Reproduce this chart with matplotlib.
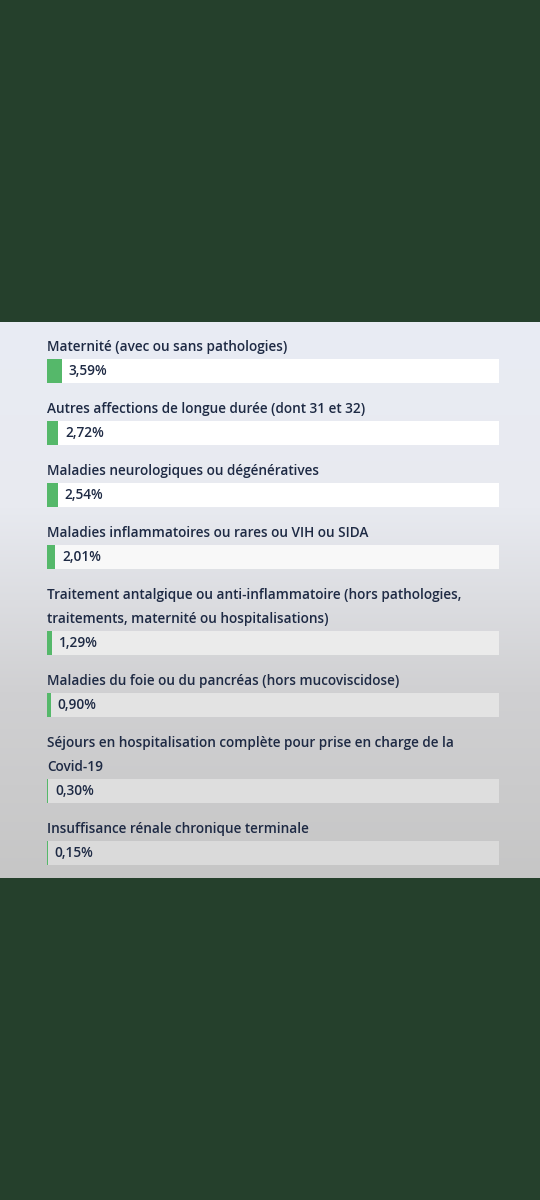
import matplotlib
matplotlib.use("Agg")
import matplotlib.pyplot as plt
import numpy as np
from matplotlib.colors import LinearSegmentedColormap

labels = [
    "Maternité (avec ou sans pathologies)",
    "Autres affections de longue durée (dont 31 et 32)",
    "Maladies neurologiques ou dégénératives",
    "Maladies inflammatoires ou rares ou VIH ou SIDA",
    "Traitement antalgique ou anti-inflammatoire (hors pathologies,\ntraitements, maternité ou hospitalisations)",
    "Maladies du foie ou du pancréas (hors mucoviscidose)",
    "Séjours en hospitalisation complète pour prise en charge de la\nCovid-19",
    "Insuffisance rénale chronique terminale",
]
values = [3.59, 2.72, 2.54, 2.01, 1.29, 0.90, 0.30, 0.15]
value_text = ["3,59%", "2,72%", "2,54%", "2,01%", "1,29%", "0,90%", "0,30%", "0,15%"]

W, H = 540, 1200
fig = plt.figure(figsize=(W / 100, H / 100), dpi=100)
fig.patch.set_facecolor("#25402c")

# panel with gradient background
top, bot = 322, 878
bg = fig.add_axes([0, 1 - bot / H, 1, (bot - top) / H])
cmap = LinearSegmentedColormap.from_list("p", ["#e9ecf4", "#e8eaf0", "#d0d0d2", "#c6c6c6"])
grad = np.linspace(0, 1, 256).reshape(-1, 1)
bg.imshow(grad, aspect="auto", cmap=cmap, extent=[0, W, bot, top])
bg.set_xlim(0, W)
bg.set_ylim(bot, top)
bg.axis("off")

# chart axes over the track area, x in percent
x0, x1 = 47, 499
ax = fig.add_axes([x0 / W, 1 - bot / H, (x1 - x0) / W, (bot - top) / H])
ax.set_xlim(0, 108)
ax.set_ylim(bot, top)
ax.axis("off")
ax.patch.set_alpha(0)

track_cmap = LinearSegmentedColormap.from_list("t", ["#ffffff", "#ffffff", "#e4e4e4", "#d8d8d8"])
txt = dict(fontsize=9.8, fontweight="semibold", family="Open Sans", color="#1e2a44",
           va="center", ha="left")
y = 347
for lab, v, t in zip(labels, values, value_text):
    lines = lab.split("\n")
    for i, line in enumerate(lines):
        ax.text(0, y + 24 * i, line, **txt)
    yb = y + 24 * len(lines)
    frac = (yb - top) / (bot - top)
    ax.barh(yb, 108, height=24, color=track_cmap(frac), left=0)
    ax.barh(yb, v, height=24, color="#55b86a")
    ax.text(v + 1.6, yb, t, **txt)
    y = yb + 38

fig.savefig("out.png", dpi=100, facecolor=fig.get_facecolor())
